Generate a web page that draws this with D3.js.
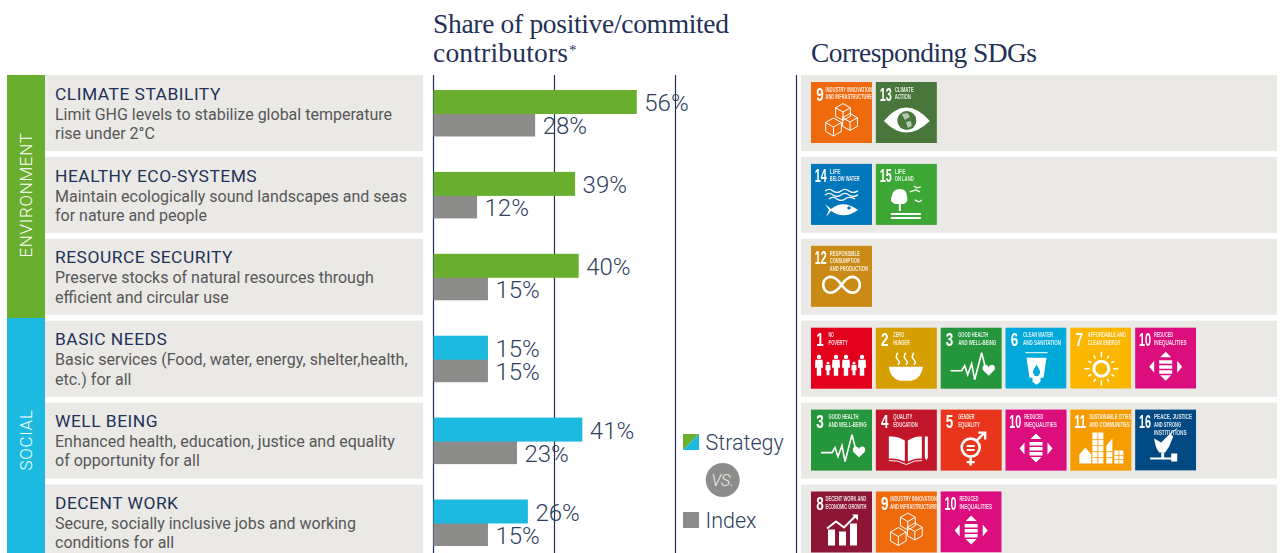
<!DOCTYPE html>
<html>
<head>
<meta charset="utf-8">
<script src="https://cdnjs.cloudflare.com/ajax/libs/d3/7.8.5/d3.min.js"></script>
<style>
html,body{margin:0;padding:0;background:#fff;overflow:hidden}
svg{display:block;font-family:Roboto,sans-serif}
</style>
</head>
<body>
<div id="chart"></div>
<script>
// Sustainability themes and their share of positive/committed contributors
const categories = ["CLIMATE STABILITY","HEALTHY ECO-SYSTEMS","RESOURCE SECURITY","BASIC NEEDS","WELL BEING","DECENT WORK"];
const descriptions = [
  ["Limit GHG levels to stabilize global temperature","rise under 2°C"],
  ["Maintain ecologically sound landscapes and seas","for nature and people"],
  ["Preserve stocks of natural resources through","efficient and circular use"],
  ["Basic services (Food, water, energy, shelter,health,","etc.) for all"],
  ["Enhanced health, education, justice and equality","of opportunity for all"],
  ["Secure, socially inclusive jobs and working","conditions for all"]
];
const pillars = ["ENVIRONMENT","ENVIRONMENT","ENVIRONMENT","SOCIAL","SOCIAL","SOCIAL"];
const strategyValues = [56,39,40,15,41,26];
const indexValues = [28,12,15,15,23,15];
const rowGoals = [[9,13],[14,15],[12],[1,2,3,6,7,10],[3,4,5,10,11,16],[8,9,10]];
const gridTicks = [0,100/3,200/3,100];

const goalColors = {1:"#e2051f",2:"#d59f00",3:"#28963c",4:"#c1152a",5:"#e8361c",6:"#00a9d9",7:"#fbb600",8:"#8e1736",9:"#ee6a10",10:"#dc0a7c",11:"#f59d05",12:"#c98a12",13:"#48773a",14:"#0676bb",15:"#3ea735",16:"#054a83"};
const goalTitles = {
  1:["NO","POVERTY"],2:["ZERO","HUNGER"],3:["GOOD HEALTH","AND WELL-BEING"],4:["QUALITY","EDUCATION"],
  5:["GENDER","EQUALITY"],6:["CLEAN WATER","AND SANITATION"],7:["AFFORDABLE AND","CLEAN ENERGY"],
  8:["DECENT WORK AND","ECONOMIC GROWTH"],9:["INDUSTRY INNOVATION","AND INFRASTRUCTURE"],10:["REDUCED","INEQUALITIES"],
  11:["SUSTAINABLE CITIES","AND COMMUNITIES"],12:["RESPONSIBLE","CONSUMPTION","AND PRODUCTION"],13:["CLIMATE","ACTION"],
  14:["LIFE","BELOW WATER"],15:["LIFE","ON LAND"],16:["PEACE, JUSTICE","AND STRONG","INSTITUTIONS"]
};

const GREEN="#69ae2f", BLUE="#1cb9e0", GRAY="#8c8d8b", PANEL="#eae9e6", NAVY="#1f3157", BODY="#575757", VALUE="#2f3f61";
const W=1282, H=553;

const svg=d3.select("#chart").append("svg").attr("width",W).attr("height",H).attr("viewBox",`0 0 ${W} ${H}`);
const defs=svg.append("defs");
defs.append("filter").attr("id","soft").attr("x","-5%").attr("y","-5%").attr("width","110%").attr("height","110%")
  .append("feGaussianBlur").attr("stdDeviation",0.45);

// Row layout and the share scale
const y=d3.scaleBand().domain(categories).range([75,560.5]).paddingInner(5.9/81.9).paddingOuter(0);
const x=d3.scaleLinear().domain([0,100]).range([433.5,796.5]);
const barH=24;

// Headings
const heading=svg.append("g").attr("fill",NAVY).style("font-family","'Liberation Serif',serif").style("font-size","27.5px");
heading.append("text").attr("x",433).attr("y",33).attr("textLength",296).attr("lengthAdjust","spacing").text("Share of positive/commited");
heading.append("text").attr("x",433).attr("y",62).attr("textLength",135).attr("lengthAdjust","spacing").text("contributors");
heading.append("text").attr("x",569).attr("y",55).style("font-size","15px").text("*");
heading.append("text").attr("x",811).attr("y",62).attr("textLength",226).attr("lengthAdjust","spacing").text("Corresponding SDGs");

// Pillar bands down the left edge
const pillarNames=[...new Set(pillars)];
const bandEdges={ENVIRONMENT:[75,318],SOCIAL:[318,H]};
const bandFill={ENVIRONMENT:GREEN,SOCIAL:BLUE};
const bands=svg.append("g").selectAll("g").data(pillarNames).join("g");
bands.append("rect").attr("x",7).attr("width",38).attr("y",d=>bandEdges[d][0])
  .attr("height",d=>bandEdges[d][1]-bandEdges[d][0]).attr("fill",d=>bandFill[d]);
const bandLabelY={ENVIRONMENT:195,SOCIAL:440};
bands.append("text").attr("transform",d=>`translate(32,${bandLabelY[d]}) rotate(-90)`)
  .attr("text-anchor","middle").attr("fill","#fff").style("font-size","17px").style("font-weight",300)
  .style("letter-spacing","0.7px").text(d=>d);

// Theme panels with name and description
const rows=svg.append("g").selectAll("g").data(categories).join("g")
  .attr("transform",d=>`translate(0,${y(d)})`);
rows.append("rect").attr("x",45).attr("width",378).attr("height",y.bandwidth()).attr("fill",PANEL);
rows.append("rect").attr("x",801).attr("width",476).attr("height",y.bandwidth()).attr("fill",PANEL);
rows.append("text").attr("x",55).attr("y",24.7).attr("fill",NAVY).style("font-size","17.4px").style("letter-spacing","0.5px").text(d=>d);
rows.each(function(d,i){
  d3.select(this).selectAll("text.desc").data(descriptions[i]).join("text").attr("class","desc")
    .attr("x",55).attr("y",(l,j)=>44.7+j*19.2).attr("fill",BODY).style("font-size","16px").text(l=>l);
});

// Grid lines behind the bars
svg.append("g").selectAll("line").data(gridTicks).join("line")
  .attr("x1",d=>x(d)).attr("x2",d=>x(d)).attr("y1",75).attr("y2",H)
  .attr("stroke",NAVY).attr("stroke-width",1.2);

// Paired bars: strategy on top, index below
const barRows=svg.append("g").selectAll("g").data(categories).join("g")
  .attr("transform",d=>`translate(0,${y(d)})`);
barRows.append("rect").attr("x",x(0)).attr("y",37.5).attr("height",barH)
  .attr("width",(d,i)=>x(indexValues[i])-x(0)).attr("fill",GRAY);
barRows.append("rect").attr("x",x(0)).attr("y",15).attr("height",barH)
  .attr("width",(d,i)=>x(strategyValues[i])-x(0)).attr("fill",(d,i)=>pillars[i]==="ENVIRONMENT"?GREEN:BLUE);
const valueLabel=(sel,vals,base)=>sel.append("text")
  .attr("x",(d,i)=>x(vals[i])+7.5).attr("y",base).attr("fill",VALUE)
  .style("font-size","24px").style("font-weight",300).text((d,i)=>vals[i]+"%");
valueLabel(barRows,strategyValues,36);
valueLabel(barRows,indexValues,59);

// Legend
const legend=svg.append("g");
legend.append("path").attr("d","M683 434H699L683 450Z").attr("fill",GREEN);
legend.append("path").attr("d","M699 434V450H683Z").attr("fill",BLUE);
legend.append("text").attr("x",705.5).attr("y",450).attr("fill",VALUE).style("font-size","21.5px").style("font-weight",300).text("Strategy");
legend.append("circle").attr("cx",722.7).attr("cy",480).attr("r",17).attr("fill",GRAY);
legend.append("text").attr("x",722.7).attr("y",486).attr("text-anchor","middle").attr("fill","#eee")
  .style("font-size","16px").style("font-style","italic").style("font-weight",300).text("VS.");
legend.append("rect").attr("x",683).attr("y",512).attr("width",16).attr("height",16).attr("fill",GRAY);
legend.append("text").attr("x",705.5).attr("y",528).attr("fill",VALUE).style("font-size","21.5px").style("font-weight",300).text("Index");

// Pictograms for the goal tiles, drawn in a 61-unit square
const INK="#fff";
function cube(g,cx,cy,r){
  const p=[[0,-r],[r*.87,-r/2],[r*.87,r/2],[0,r],[-r*.87,r/2],[-r*.87,-r/2]];
  g.append("path").attr("d","M"+p.join("L")+"Z M0 0 L"+p[1]+" M0 0 L"+p[5]+" M0 0 L"+p[3])
    .attr("transform",`translate(${cx},${cy})`).attr("fill","none").attr("stroke",INK).attr("stroke-width",1);
}
function person(g,cx,top,s){
  g.append("circle").attr("cx",cx).attr("cy",top+2.2*s).attr("r",2.2*s).attr("fill",INK);
  g.append("path").attr("d",`M${cx-3.6*s} ${top+5*s}H${cx+3.6*s}L${cx+4*s} ${top+13*s}H${cx+2.2*s}V${top+21*s}H${cx-2.2*s}V${top+13*s}H${cx-4*s}Z`).attr("fill",INK);
}
function heartbeat(g){
  g.append("path").attr("d","M10 43H21L24 38L27 47L31 36L34 52L41 25L45 41").attr("fill","none").attr("stroke",INK).attr("stroke-width",1.6);
  g.append("path").attr("d","M48 48L42 42Q41 37 45 37Q47.5 37 48 39.500Q48.500 37 51 37Q55 37 54 42Z").attr("fill",INK);
}
function arrows(g){
  g.append("path").attr("d","M30.500 24L36 29.500H25Z M30.500 53L36 47.500H25Z M14 39L19 33V45Z M47 39L42 33V45Z").attr("fill",INK);
  g.append("path").attr("d","M24 32.500H37V36H24Z M24 37.500H37V41H24Z M24 42.500H37V46H24Z").attr("fill",INK);
}
const pictograms={
  1(g){[[8,1],[17,.65],[25,1],[35,1],[43,.65],[51,1]].forEach(([c,s])=>person(g,c,s<.8?34:27,s));},
  2(g){
    g.append("path").attr("d","M13 39H47Q46 50 36 53H24Q14 50 13 39Z").attr("fill",INK);
    g.append("path").attr("d","M22 25Q19 29 22 32T22 37 M30 25Q27 29 30 32T30 37 M38 25Q35 29 38 32T38 37").attr("fill","none").attr("stroke",INK).attr("stroke-width",1.5);
  },
  3:heartbeat,
  4(g){
    g.append("path").attr("d","M13 27Q21 26 29 31V52Q21 48 13 49Z M32 31Q40 26 46 27V49Q40 48 32 52Z").attr("fill",INK);
    g.append("path").attr("d","M13 51Q22 50 30.500 55Q39 50 46 51").attr("fill","none").attr("stroke",INK);
    g.append("path").attr("d","M49 27H52V48L50.500 51L49 48Z").attr("fill",INK);
  },
  5(g){
    g.append("circle").attr("cx",30).attr("cy",38).attr("r",9).attr("fill","none").attr("stroke",INK).attr("stroke-width",2.600);
    g.append("path").attr("d","M26 35.500H34V37.500H26Z M26 39.500H34V41.500H26Z").attr("fill",INK);
    g.append("path").attr("d","M36 31L43 24 M37.500 23H44.500V30 M30 48V56 M26 52.500H34").attr("fill","none").attr("stroke",INK).attr("stroke-width",2.400);
  },
  6(g){
    g.append("path").attr("d","M20 25H42").attr("stroke",INK).attr("stroke-width",1);
    g.append("path").attr("d","M21 30H41L38 50H35V54L31 57L27 54V50H24Z").attr("fill",INK);
    g.append("path").attr("d","M31 37Q27 43 27.500 45Q29 48.500 31 48.500Q33.500 48.500 34.500 45Q35 43 31 37Z").attr("fill",goalColors[6]);
  },
  7(g){
    g.append("circle").attr("cx",31).attr("cy",41).attr("r",7.500).attr("fill","none").attr("stroke",INK).attr("stroke-width",3);
    d3.range(12).forEach(k=>{const a=k*Math.PI/6;
      g.append("line").attr("x1",31+11.500*Math.cos(a)).attr("y1",41+11.500*Math.sin(a)).attr("x2",31+(k%3?15:17)*Math.cos(a)).attr("y2",41+(k%3?15:17)*Math.sin(a)).attr("stroke",INK).attr("stroke-width",1.500);});
  },
  8(g){
    g.append("path").attr("d","M17 54V38H24V54Z M28 54V40H35V54Z M39 54V32H46V54Z").attr("fill",INK);
    g.append("path").attr("d","M16 37L25 30L33 36L45 24").attr("fill","none").attr("stroke",INK).attr("stroke-width",2);
    g.append("path").attr("d","M41 23H47V29Z").attr("fill",INK);
  },
  9(g){cube(g,32,30,8.500);cube(g,22.500,45,9);cube(g,39,40,8.500);},
  10:arrows,
  11(g){
    g.append("path").attr("d","M22 54V23H33V54Z M36 54V36L42 29V54Z M44 54V41H53V54Z").attr("fill",INK);
    g.append("path").attr("d","M9 54V45L15 38L21 45V54Z").attr("fill",INK);
    g.append("path").attr("d","M22 30H33M22 36H33M22 42H33M22 48H33M27.500 23V54M36 42H42M36 48H42M44 46H53M44 50H53M48.500 41V54").attr("stroke",goalColors[11]).attr("stroke-width",.8);
  },
  12(g){g.append("path").attr("d","M30.500 39C25 31 20 30 16 32C11 35 11 43 16 46C20 48 25 47 30.500 39C36 31 41 30 45 32C50 35 50 43 45 46C41 48 36 47 30.500 39Z").attr("fill","none").attr("stroke",INK).attr("stroke-width",2.600);},
  13(g){
    g.append("path").attr("d","M8 39Q30 12 54 39Q30 62 8 39Z").attr("fill",INK);
    g.append("circle").attr("cx",31).attr("cy",38.500).attr("r",9.500).attr("fill",goalColors[13]);
    g.append("path").attr("d","M26 32L32 31L34 35L29 38Z M30 40L35 39L36 44L32 46Z").attr("fill",INK).attr("opacity",.6);
  },
  14(g){
    g.append("path").attr("d","M14 27Q18 24 22 27T30 27T38 27T47 27 M14 31Q18 28 22 31T30 31T38 31T47 31 M18 35Q22 32 26 35T34 35T44 35").attr("fill","none").attr("stroke",INK).attr("stroke-width",1.300);
    g.append("path").attr("d","M14 40L20 45Q32 35 47 46Q33 56 20 47L15 53L18 46Z").attr("fill",INK);
    g.append("circle").attr("cx",38).attr("cy",44).attr("r",1.700).attr("fill",goalColors[14]);
  },
  15(g){
    g.append("path").attr("d","M24 25Q31 25 31 32Q33 38 28 40H25V47H23V40H19Q13 37 16 32Q17 25 24 25Z").attr("fill",INK);
    g.append("path").attr("d","M15 49H45V51H15Z M15 53H45V55H15Z").attr("fill",INK);
    g.append("path").attr("d","M34 28L40 26L44 28 M38 22L41 24L45 23 M39 36L43 38L46 36").attr("fill","none").attr("stroke",INK).attr("stroke-width",1.200);
  },
  16(g){
    g.append("path").attr("d","M19 29L26 33L31 28L35 24L38 27L34 37L30 43H24Q20 38 19 29Z").attr("fill",INK);
    g.append("path").attr("d","M35 24L42 19").attr("stroke",INK).attr("stroke-width",1);
    g.append("path").attr("d","M15 48H37V50H15Z M36 44H42V52H36Z M26 43H29V48H26Z").attr("fill",INK);
  }
};

// Goal tiles, positioned from the row and the tile's place in the row
const tileX=d3.scaleBand().domain(d3.range(6)).range([811,1196]).paddingInner(.062).paddingOuter(0);
const tileSize=61;
const narrowFont="'Liberation Sans Narrow','Liberation Sans',sans-serif";
const titleLeft=d=>d>9?18.8:(d===8||d===9?14.5:17.5);
const tileRows=svg.append("g").attr("filter","url(#soft)").selectAll("g").data(rowGoals).join("g")
  .attr("transform",(d,i)=>`translate(0,${y(categories[i])+7})`);
tileRows.each(function(goals){
  const tiles=d3.select(this).selectAll("g").data(goals).join("g")
    .attr("transform",(d,i)=>`translate(${tileX(i)},0)`);
  tiles.append("rect").attr("width",tileSize).attr("height",tileSize).attr("fill",d=>goalColors[d]);
  tiles.append("text").attr("x",d=>d>9?3.8:5.2).attr("y",18.5).attr("fill","#fff")
    .style("font-family",narrowFont).style("font-weight",700).style("font-size","19px")
    .attr("textLength",d=>d>9?12:7.5).attr("lengthAdjust","spacingAndGlyphs").text(d=>d);
  tiles.each(function(d){
    const g=d3.select(this);
    g.selectAll("text.t").data(goalTitles[d]).join("text").attr("class","t")
      .attr("x",titleLeft(d)).attr("y",(l,j)=>9.8+j*7.6).attr("fill","#fff").attr("opacity",.85)
      .style("font-family",narrowFont).style("font-weight",700).style("font-size","7.4px")
      .attr("textLength",l=>Math.min(61-titleLeft(d),l.length*2.72)).attr("lengthAdjust","spacingAndGlyphs").text(l=>l);
    pictograms[d](g.append("g"));
  });
});
</script>
</body>
</html>
